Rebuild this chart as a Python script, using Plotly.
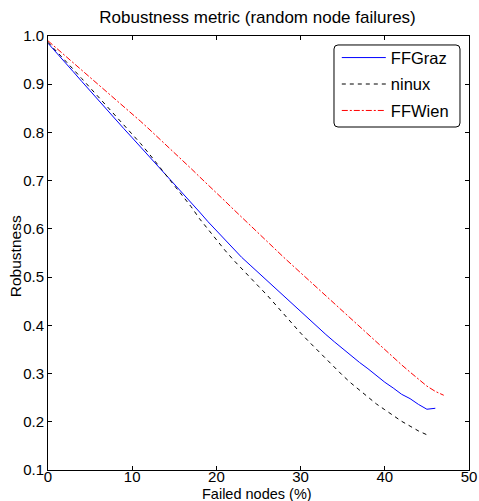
import plotly.graph_objects as go

x_graz = list(range(0, 47))
ffgraz = [0.985, 0.966, 0.946, 0.926, 0.906, 0.886, 0.866, 0.847, 0.827, 0.808,
          0.789, 0.770, 0.751, 0.732, 0.713, 0.694, 0.675, 0.655, 0.635, 0.615,
          0.596, 0.577, 0.559, 0.541, 0.525, 0.509, 0.493, 0.475, 0.459, 0.444,
          0.427, 0.411, 0.396, 0.381, 0.366, 0.351, 0.337, 0.323, 0.310, 0.296,
          0.282, 0.270, 0.257, 0.248, 0.236, 0.226, 0.228]

x_ninux = list(range(0, 46))
ninux = [0.987, 0.969, 0.950, 0.931, 0.912, 0.893, 0.874, 0.855, 0.836, 0.817,
         0.797, 0.777, 0.756, 0.734, 0.712, 0.690, 0.668, 0.646, 0.621, 0.599,
         0.577, 0.556, 0.536, 0.517, 0.499, 0.481, 0.463, 0.443, 0.423, 0.403,
         0.384, 0.366, 0.348, 0.330, 0.312, 0.296, 0.280, 0.265, 0.250, 0.237,
         0.225, 0.213, 0.201, 0.191, 0.181, 0.173]

x_wien = list(range(0, 48))
ffwien = [0.990, 0.975, 0.960, 0.945, 0.930, 0.915, 0.900, 0.885, 0.870, 0.855,
          0.839, 0.823, 0.807, 0.791, 0.775, 0.759, 0.742, 0.725, 0.708, 0.692,
          0.675, 0.658, 0.641, 0.624, 0.607, 0.590, 0.573, 0.557, 0.541, 0.525,
          0.509, 0.493, 0.477, 0.461, 0.445, 0.429, 0.413, 0.397, 0.380, 0.364,
          0.348, 0.333, 0.318, 0.303, 0.288, 0.274, 0.263, 0.255]

x_ticks = [0, 10, 20, 30, 40, 50]
y_ticks = [0.1, 0.2, 0.3, 0.4, 0.5, 0.6, 0.7, 0.8, 0.9, 1.0]
y_ticktext = ["0.1", "0.2", "0.3", "0.4", "0.5", "0.6", "0.7", "0.8", "0.9", "1.0"]

FONT = "Liberation Sans, Arial, sans-serif"

fig = go.Figure()
fig.add_trace(go.Scatter(x=x_graz, y=ffgraz, mode="lines", name="FFGraz", legendgroup="a",
                         line=dict(color="#0000ff", width=1)))
fig.add_trace(go.Scatter(x=x_ninux, y=ninux, mode="lines", name="ninux", legendgroup="b",
                         line=dict(color="#000000", width=1, dash="4px,4px")))
fig.add_trace(go.Scatter(x=x_wien, y=ffwien, mode="lines", name="FFWien", legendgroup="c",
                         line=dict(color="#ff0000", width=1, dash="6px,2px,2px,2px")))

axis_common = dict(showline=True, linecolor="black", linewidth=1, mirror="ticks",
                   ticks="inside", ticklen=4, tickcolor="black", showgrid=False,
                   zeroline=False, automargin=False,
                   tickfont=dict(family=FONT, size=15, color="black"))

# legend frame (rounded rectangle) in paper coordinates
x0, x1, y0, y1 = 0.6793, 0.9786, 0.7903, 0.9793
rx, ry = 0.0095, 0.0092
frame_path = (f"M {x0+rx},{y1} L {x1-rx},{y1} Q {x1},{y1} {x1},{y1-ry} "
              f"L {x1},{y0+ry} Q {x1},{y0} {x1-rx},{y0} L {x0+rx},{y0} "
              f"Q {x0},{y0} {x0},{y0+ry} L {x0},{y1-ry} Q {x0},{y1} {x0+rx},{y1} Z")

fig.update_layout(
    width=479, height=501,
    margin=dict(l=48, r=10, t=36, b=31),
    paper_bgcolor="white", plot_bgcolor="white",
    title=dict(text="Robustness metric (random node failures)", x=0.5376, xanchor="center",
               y=0.965, yanchor="middle",
               font=dict(family=FONT, size=17, color="black")),
    xaxis=dict(range=[0, 50], tickvals=x_ticks, ticktext=[str(v) for v in x_ticks],
               ticklabelstandoff=-7, **axis_common),
    yaxis=dict(range=[0.1, 1.0], tickvals=y_ticks, ticktext=y_ticktext,
               **axis_common),
    legend=dict(x=0.686, y=0.99, xanchor="left", yanchor="top",
                bgcolor="rgba(0,0,0,0)", borderwidth=0,
                font=dict(family=FONT, size=16.5, color="black"),
                traceorder="grouped", tracegroupgap=2, itemwidth=44),
    showlegend=True,
    shapes=[dict(type="path", path=frame_path, xref="paper", yref="paper",
                 line=dict(color="black", width=1), fillcolor="white", layer="below")],
    annotations=[
        dict(text="Failed nodes (%)", xref="paper", yref="paper", x=0.4976, y=-0.0553,
             xanchor="center", yanchor="middle", showarrow=False,
             font=dict(family=FONT, size=14.5, color="black")),
        dict(text="Robustness", xref="paper", yref="paper", x=-0.078, y=0.493,
             xanchor="center", yanchor="middle", showarrow=False, textangle=-90,
             font=dict(family=FONT, size=15.5, color="black")),
    ],
)

fig.write_html("out.html")
